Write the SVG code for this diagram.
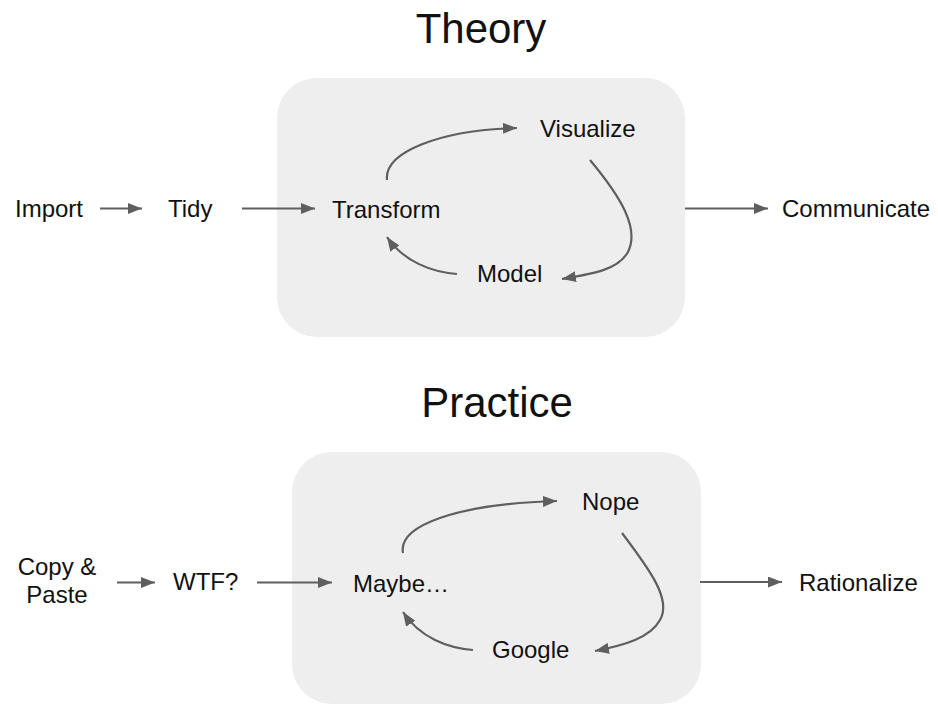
<svg xmlns="http://www.w3.org/2000/svg" width="938" height="708" viewBox="0 0 938 708">
  <style>
    text { font-family: "Liberation Sans", Arial, sans-serif; fill: #111111; }
    .label { font-size: 24px; }
    .title { font-size: 42px; text-anchor: middle; }
    .panel { fill: #eeeeee; }
    .edge { fill: none; stroke: #5f5f5f; stroke-width: 2.2; marker-end: url(#head); }
  </style>
  <defs>
    <marker id="head" viewBox="0 0 14 11" refX="14" refY="5.5" markerUnits="userSpaceOnUse" markerWidth="14" markerHeight="11" orient="auto">
      <path d="M0,0 L14,5.5 L0,11 Z" fill="#5f5f5f"/>
    </marker>
  </defs>

  <rect width="938" height="708" fill="#ffffff"/>

  <!-- Theory section -->
  <text class="title" x="481" y="43">Theory</text>
  <rect class="panel" x="277" y="78" width="408" height="259" rx="40" ry="40"/>

  <g id="import"><text class="label" x="15" y="217">Import</text></g>
  <g id="tidy"><text class="label" x="168" y="217">Tidy</text></g>
  <g id="transform"><text class="label" x="332" y="218">Transform</text></g>
  <g id="visualize"><text class="label" x="540" y="137">Visualize</text></g>
  <g id="model"><text class="label" x="477" y="282">Model</text></g>
  <g id="communicate"><text class="label" x="782" y="217">Communicate</text></g>

  <!-- Practice section -->
  <text class="title" x="497" y="417">Practice</text>
  <rect class="panel" x="292" y="452" width="409" height="252" rx="40" ry="40"/>

  <g id="copy-paste">
    <text class="label" x="57" y="575" text-anchor="middle">Copy &amp;</text>
    <text class="label" x="57" y="603" text-anchor="middle">Paste</text>
  </g>
  <g id="wtf"><text class="label" x="173" y="590">WTF?</text></g>
  <g id="maybe"><text class="label" x="353" y="592">Maybe…</text></g>
  <g id="nope"><text class="label" x="582" y="510">Nope</text></g>
  <g id="google"><text class="label" x="492" y="658">Google</text></g>
  <g id="rationalize"><text class="label" x="799" y="591">Rationalize</text></g>

  <!-- Connectors -->
  <g id="connectors">
    <path class="edge" d="M100,208.5 L142,208.5"/>
    <path class="edge" d="M242,208.5 L315,208.5"/>
    <path class="edge" d="M387,180 C384,152 440,130 517,128"/>
    <path class="edge" d="M590,160 C620,196 640,228 628,252 C618,270 592,274 562,279"/>
    <path class="edge" d="M457,274 C432,272 404,262 387,237"/>
    <path class="edge" d="M685,208.5 L768,208.5"/>

    <path class="edge" d="M117,582.5 L155,582.5"/>
    <path class="edge" d="M257,582.5 L332,582.5"/>
    <path class="edge" d="M403,553 C398,526 455,504 557,501"/>
    <path class="edge" d="M622,533 C650,570 672,600 660,620 C650,638 625,645 595,651"/>
    <path class="edge" d="M473,650 C448,648 420,638 403,612"/>
    <path class="edge" d="M700,582 L782,582"/>
  </g>
</svg>
